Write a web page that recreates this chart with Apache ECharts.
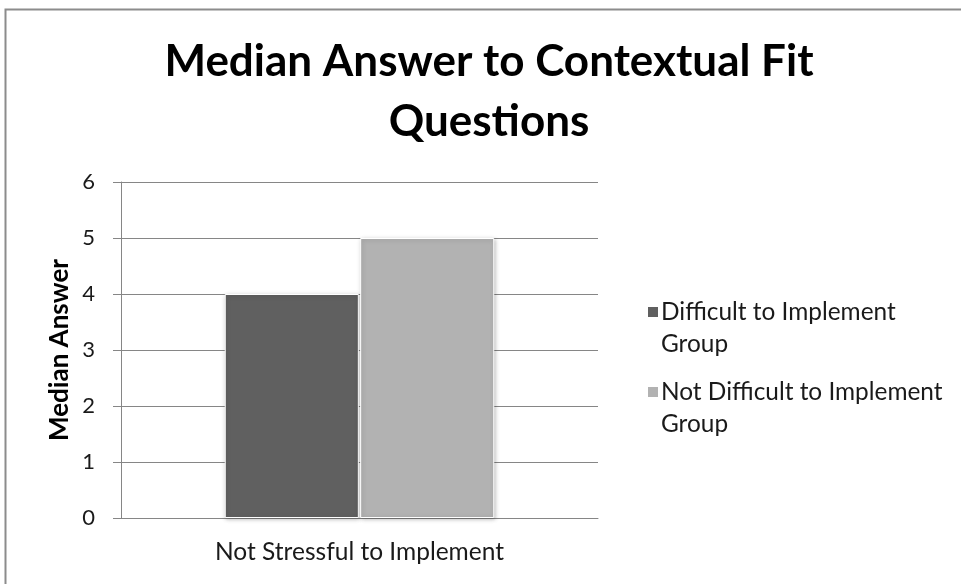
<!DOCTYPE html>
<html>
<head>
<meta charset="utf-8">
<script src="https://cdn.jsdelivr.net/npm/echarts@6/dist/echarts.min.js"></script>
<style>
  html, body { margin: 0; padding: 0; background: #fff; }
  #chart { width: 961px; height: 584px; }
</style>
</head>
<body>
<div id="chart"></div>
<script>
// Chart data
const titleText = 'Median Answer to Contextual Fit\nQuestions';
const categories = ['Not Stressful to Implement'];
const seriesNames = ['Difficult to Implement\nGroup', 'Not Difficult to Implement\nGroup'];
const difficultGroup = [4];
const notDifficultGroup = [5];
const yTicks = [0, 1, 2, 3, 4, 5, 6];

const FONT = 'Lato, "Open Sans", sans-serif';
const colors = ['#606060', '#b2b2b2'];

const chart = echarts.init(document.getElementById('chart'), null, { renderer: 'canvas' });

const barStyle = (c) => ({
  color: c,
  borderColor: '#ffffff',
  borderWidth: 1,
  shadowColor: 'rgba(0,0,0,0.25)',
  shadowBlur: 4,
  shadowOffsetX: 1,
  shadowOffsetY: 1
});

// Each legend entry keeps its swatch next to the first line of its label
const legendEntry = (name, top) => ({
  data: [name],
  orient: 'vertical',
  left: 641,
  top: top,
  itemWidth: 12,
  itemHeight: 12,
  itemGap: 0,
  icon: 'rect',
  formatter: (n) => ' \n' + n,
  textStyle: { fontFamily: FONT, fontSize: 24.4, color: '#1a1a1a', lineHeight: 32, padding: [0, 0, 0, -3] },
  selectedMode: false
});

chart.setOption({
  animation: false,
  backgroundColor: '#ffffff',
  title: {
    text: titleText,
    left: 484,
    top: 27,
    textAlign: 'center',
    textStyle: { fontFamily: FONT, fontWeight: 'bold', fontSize: 44, lineHeight: 60, color: '#000' }
  },
  graphic: [{
    type: 'rect',
    shape: { x: 5.5, y: 9.5, width: 970, height: 600 },
    style: { fill: null, stroke: '#8c8c8c', lineWidth: 2 },
    silent: true
  }],
  legend: [
    legendEntry(seriesNames[0], 259),
    legendEntry(seriesNames[1], 339)
  ],
  grid: { left: 121, right: 363, top: 182, bottom: 66, containLabel: false },
  xAxis: {
    type: 'category',
    data: categories,
    axisLine: { lineStyle: { color: '#868686', width: 1 } },
    axisTick: { show: false },
    axisLabel: { fontFamily: FONT, fontSize: 24.5, color: '#1a1a1a', margin: 22 }
  },
  yAxis: {
    type: 'value',
    min: yTicks[0],
    max: yTicks[yTicks.length - 1],
    interval: 1,
    name: 'Median Answer',
    nameLocation: 'middle',
    nameGap: 48,
    nameTextStyle: { fontFamily: FONT, fontWeight: 'bold', fontSize: 26, color: '#000' },
    axisLine: { show: true, lineStyle: { color: '#868686' } },
    axisTick: { show: true, length: 8, lineStyle: { color: '#868686' } },
    axisLabel: { fontFamily: FONT, fontSize: 22, color: '#1a1a1a', margin: 26 },
    splitLine: { lineStyle: { color: '#868686', width: 1 } }
  },
  series: [
    {
      name: seriesNames[0],
      type: 'bar',
      data: difficultGroup,
      barGap: '1%',
      barCategoryGap: '43.5%',
      itemStyle: barStyle(colors[0])
    },
    {
      name: seriesNames[1],
      type: 'bar',
      data: notDifficultGroup,
      barGap: '1%',
      barCategoryGap: '43.5%',
      itemStyle: barStyle(colors[1])
    }
  ]
});
</script>
</body>
</html>
